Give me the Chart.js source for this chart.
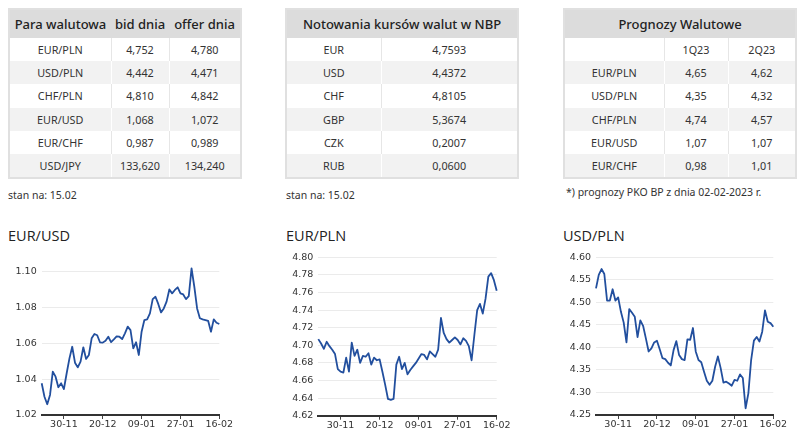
<!DOCTYPE html>
<html>
<head>
<meta charset="utf-8">
<script src="https://cdn.jsdelivr.net/npm/chart.js@4.4.0/dist/chart.umd.min.js"></script>
<style>
body { margin: 0; width: 800px; height: 433px; background: #fff; position: relative; overflow: hidden; font-family: 'Noto Sans', sans-serif; color: #333; }
table.tbl { position: absolute; top: 8px; width: 232px; border-collapse: collapse; border: 2px solid #e0e0e0; font-size: 10.8px; text-align: center; table-layout: fixed; }
.tbl th { height: 28px; background: #dcdcdc; font-size: 13px; font-weight: 500; color: #222; padding: 0; }
.tbl td { height: 23.2px; padding: 0; border-left: 1px solid #e6e6e6; background: #fff; }
.tbl td:first-child { border-left: none; }
.tbl tbody tr:nth-child(even) td { background: #f2f2f2; border-left-color: #fff; }
.note { position: absolute; font-size: 10.5px; color: #333; white-space: nowrap; }
.ttl { position: absolute; top: 226px; line-height: 19px; font-family: 'Open Sans', sans-serif; font-size: 14.5px; color: #222; }
canvas { position: absolute; }
</style>
</head>
<body>
<table class="tbl" id="t1" style="left:8px"></table>
<table class="tbl" id="t2" style="left:285px"></table>
<table class="tbl" id="t3" style="left:563px"></table>
<div class="note" style="left:8px; top:188px">stan na: 15.02</div>
<div class="note" style="left:286px; top:188px">stan na: 15.02</div>
<div class="note" style="left:566px; top:185px">*) prognozy PKO BP z dnia 02-02-2023 r.</div>

<div class="ttl" style="left:8px">EUR/USD</div>
<div class="ttl" style="left:286px">EUR/PLN</div>
<div class="ttl" style="left:563px">USD/PLN</div>
<canvas id="c-eurusd" width="250" height="183" style="left:0; top:250px"></canvas>
<canvas id="c-eurpln" width="250" height="188" style="left:270px; top:245px"></canvas>
<canvas id="c-usdpln" width="260" height="188" style="left:540px; top:245px"></canvas>

<script>
// tabele
const PAIRS     = ['EUR/PLN', 'USD/PLN', 'CHF/PLN', 'EUR/USD', 'EUR/CHF', 'USD/JPY'];
const BID       = ['4,752', '4,442', '4,810', '1,068', '0,987', '133,620'];
const OFFER     = ['4,780', '4,471', '4,842', '1,072', '0,989', '134,240'];
const NBP_CODES = ['EUR', 'USD', 'CHF', 'GBP', 'CZK', 'RUB'];
const NBP_RATES = ['4,7593', '4,4372', '4,8105', '5,3674', '0,2007', '0,0600'];
const FC_PAIRS  = ['EUR/PLN', 'USD/PLN', 'CHF/PLN', 'EUR/USD', 'EUR/CHF'];
const FC_1Q     = ['4,65', '4,35', '4,74', '1,07', '0,98'];
const FC_2Q     = ['4,62', '4,32', '4,57', '1,07', '1,01'];

// wykresy: sesje od 18-11 do 16-02
const DATES = [
    '18-11', '21-11', '22-11', '23-11', '24-11', '25-11', '28-11', '29-11', '30-11',
    '01-12', '02-12', '05-12', '06-12', '07-12', '08-12', '09-12', '12-12', '13-12', '14-12', '15-12', '16-12', '19-12', '20-12',
    '21-12', '22-12', '23-12', '26-12', '27-12', '28-12', '29-12', '30-12', '02-01', '03-01', '04-01', '05-01', '06-01', '09-01',
    '10-01', '11-01', '12-01', '13-01', '16-01', '17-01', '18-01', '19-01', '20-01', '23-01', '24-01', '25-01', '26-01', '27-01',
    '30-01', '31-01', '01-02', '02-02', '03-02', '06-02', '07-02', '08-02', '09-02', '10-02', '13-02', '14-02', '15-02', '16-02'
];
const TICK_DATES = ['30-11', '20-12', '09-01', '27-01', '16-02'];

const EURUSD = [
    1.0377, 1.0302, 1.0260, 1.0312, 1.0442, 1.0414, 1.0355, 1.0377, 1.0345, 1.0433,
    1.0516, 1.0581, 1.0492, 1.0466, 1.0498, 1.0578, 1.0513, 1.0535, 1.0628, 1.0652,
    1.0645, 1.0606, 1.0604, 1.0615, 1.0637, 1.0607, 1.0622, 1.0639, 1.0637, 1.0624,
    1.0656, 1.0693, 1.0674, 1.0572, 1.0606, 1.0535, 1.0665, 1.0730, 1.0734, 1.0767,
    1.0847, 1.0860, 1.0820, 1.0773, 1.0795, 1.0833, 1.0901, 1.0879, 1.0898, 1.0913,
    1.0879, 1.0873, 1.0847, 1.0864, 1.1019, 1.0916, 1.0795, 1.0740, 1.0734, 1.0730,
    1.0725, 1.0665, 1.0734, 1.0715, 1.0708
];
const EURPLN = [
    4.707, 4.702, 4.696, 4.704, 4.699, 4.695, 4.690, 4.673, 4.670, 4.669,
    4.686, 4.670, 4.703, 4.688, 4.695, 4.680, 4.688, 4.687, 4.691, 4.678,
    4.686, 4.683, 4.684, 4.670, 4.655, 4.639, 4.638, 4.639, 4.678, 4.687,
    4.673, 4.680, 4.667, 4.672, 4.676, 4.680, 4.685, 4.690, 4.689, 4.684,
    4.693, 4.690, 4.687, 4.695, 4.731, 4.714, 4.707, 4.703, 4.706, 4.709,
    4.706, 4.701, 4.708, 4.705, 4.699, 4.683, 4.712, 4.740, 4.747, 4.736,
    4.753, 4.778, 4.782, 4.774, 4.762
];
const USDPLN = [
    4.531, 4.561, 4.574, 4.563, 4.504, 4.504, 4.529, 4.504, 4.511, 4.479,
    4.455, 4.411, 4.485, 4.477, 4.468, 4.423, 4.460, 4.448, 4.420, 4.391,
    4.398, 4.411, 4.415, 4.396, 4.376, 4.374, 4.366, 4.360, 4.394, 4.414,
    4.383, 4.374, 4.372, 4.418, 4.417, 4.443, 4.391, 4.372, 4.367, 4.346,
    4.326, 4.317, 4.326, 4.357, 4.380, 4.354, 4.322, 4.324, 4.320, 4.315,
    4.328, 4.326, 4.340, 4.332, 4.265, 4.298, 4.372, 4.415, 4.423, 4.413,
    4.435, 4.482, 4.457, 4.454, 4.446
];

const LINE_COLOR = '#224f9e';
const TICK_IDX = TICK_DATES.map(d => DATES.indexOf(d));

function fillTable(id, cols, head, rows) {
    const el = document.getElementById(id);
    el.innerHTML =
        '<colgroup>' + cols.map(w => `<col style="width:${w}px">`).join('') + '</colgroup>' +
        '<thead><tr>' + head + '</tr></thead>' +
        '<tbody>' + rows.map(r => '<tr>' + r.map(c => `<td>${c}</td>`).join('') + '</tr>').join('') + '</tbody>';
}

fillTable('t1', [102, 58, 72],
    '<th>Para walutowa</th><th>bid dnia</th><th>offer dnia</th>',
    PAIRS.map((p, i) => [p, BID[i], OFFER[i]]));

fillTable('t2', [95, 137],
    '<th colspan="2">Notowania kursów walut w NBP</th>',
    NBP_CODES.map((c, i) => [c, NBP_RATES[i]]));

fillTable('t3', [100, 64, 68],
    '<th colspan="3">Prognozy Walutowe</th>',
    [['', '1Q23', '2Q23']].concat(FC_PAIRS.map((p, i) => [p, FC_1Q[i], FC_2Q[i]])));

const tickFont = { family: 'DejaVu Sans', size: 9.5 };

function lineChart(id, values, y, yWidth, xHeight, pad) {
    return new Chart(document.getElementById(id), {
        type: 'line',
        data: {
            labels: DATES,
            datasets: [{
                data: values,
                borderColor: LINE_COLOR,
                borderWidth: 1.8,
                borderJoinStyle: 'round',
                pointRadius: 0,
                tension: 0,
                clip: false,
            }]
        },
        options: {
            responsive: false,
            animation: false,
            layout: { padding: pad },
            plugins: { legend: { display: false }, tooltip: { enabled: false } },
            scales: {
                x: {
                    afterBuildTicks: s => { s.ticks = TICK_IDX.map(i => ({ value: i })); },
                    afterFit: s => { s.height = xHeight; },
                    ticks: { autoSkip: false, maxRotation: 0, padding: 0, color: '#333', font: tickFont },
                    grid: { drawOnChartArea: false, drawTicks: true, tickLength: 4, color: '#444' },
                    border: { color: '#333', width: 2 }
                },
                y: {
                    min: y.min, max: y.max,
                    afterFit: s => { s.width = yWidth; },
                    ticks: { stepSize: y.step, padding: 5, color: '#333', font: tickFont, callback: v => v.toFixed(2) },
                    grid: { color: '#ebebeb', drawTicks: false },
                    border: { display: false }
                }
            }
        }
    });
}

lineChart('c-eurusd', EURUSD, { min: 1.02, max: 1.10, step: 0.02 }, 41.7, 18,
    { left: 0, top: 21.7, right: 30.7, bottom: 0 });
lineChart('c-eurpln', EURPLN, { min: 4.62, max: 4.80, step: 0.02 }, 48.3, 17.3,
    { left: 0, top: 12.3, right: 23.3, bottom: 0 });
lineChart('c-usdpln', USDPLN, { min: 4.25, max: 4.60, step: 0.05 }, 56, 18,
    { left: 0, top: 12.3, right: 26.7, bottom: 0 });
</script>
</body>
</html>
